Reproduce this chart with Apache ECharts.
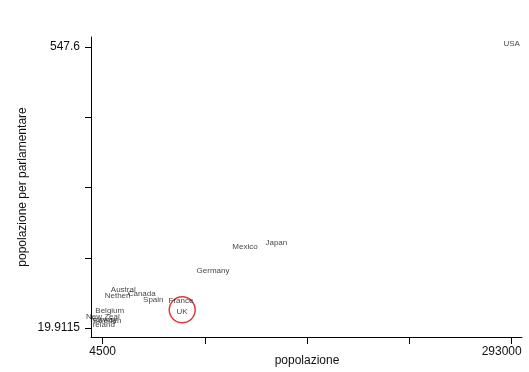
<!DOCTYPE html>
<html>
<head>
<meta charset="utf-8">
<script src="https://cdn.jsdelivr.net/npm/echarts@6/dist/echarts.min.js"></script>
<style>html,body{margin:0;padding:0;background:#fff;}#c{width:529px;height:372px;}</style>
</head>
<body>
<div id="c"></div>
<script>
const countries = ["USA","Japan","Mexico","Germany","France","UK","Spain","Canada","Austral","Netherl","Belgium","New Zeal","Norway","Sweden","Ireland"];
const popolazione = [293000,127000,104900,82300,59700,60400,40200,32000,19000,15000,9500,4600,5200,7500,4500];
const perParlamentare = [547.6,175,167,122,66,45,67,78.5,86.6,75,47,36,29,28,19.9115];
const highlight = [60600, 54];
const xTickValues = [4500,76625,148750,220875,293000];
const xTickLabels = ["4500","293000"];
const yTickValues = [19.9115,151.833,283.756,415.678,547.6];
const yTickLabels = ["19.9115","547.6"];
const xTitle = 'popolazione';
const yTitle = 'popolazione per parlamentare';

const font = "Liberation Sans, Arial, sans-serif";
const chart = echarts.init(document.getElementById('c'));
chart.setOption({
  animation: false,
  backgroundColor: '#fff',
  grid: {left: 91, right: 7, top: 37, bottom: 35, containLabel: false, outerBoundsMode: 'none'},
  graphic: [{
    type: 'text', x: 307, y: 361,
    style: {text: xTitle, align: 'center', verticalAlign: 'middle', fill: '#111', fontSize: 12, fontFamily: font}
  }],
  xAxis: {
    type: 'value', min: -3750, max: 300270,
    splitLine: {show: false},
    axisLine: {show: true, onZero: false, lineStyle: {color: '#000', width: 1}},
    axisTick: {show: true, length: 7, customValues: xTickValues, lineStyle: {color: '#000'}},
    axisLabel: {show: true, customValues: [xTickValues[0], xTickValues[4]],
      formatter: v => (Math.abs(v-4500)<1 ? xTickLabels[0] : '{r|' + xTickLabels[1] + '}'),
      rich: {r: {padding: [0, 20, 0, 0], fontSize: 12, fontFamily: font, color: '#111'}},
      color: '#111', fontSize: 12, fontFamily: font, margin: 9}
  },
  yAxis: {
    type: 'value', min: 3.05, max: 566.3,
    splitLine: {show: false},
    axisLine: {show: true, onZero: false, lineStyle: {color: '#000', width: 1}},
    axisTick: {show: true, length: 6, customValues: yTickValues, lineStyle: {color: '#000'}},
    axisLabel: {show: true, customValues: [yTickValues[0], yTickValues[4]], formatter: v => (Math.abs(v-547.6)<0.01 ? yTickLabels[1] : yTickLabels[0]), color: '#111', fontSize: 12, fontFamily: font, margin: 11},
    name: yTitle, nameLocation: 'middle', nameGap: 62, nameRotate: 90, nameMoveOverlap: false,
    nameTextStyle: {color: '#111', fontSize: 12, fontFamily: font}
  },
  series: [
    {
      type: 'scatter',
      symbol: 'circle', symbolSize: 0.01,
      itemStyle: {color: 'rgba(0,0,0,0)'},
      data: countries.map((n,i) => ({name: n, value: [popolazione[i], perParlamentare[i]]})),
      label: {show: true, position: 'inside', offset: [0,-3], formatter: p => p.name, color: '#111', fontSize: 8, fontFamily: font},
      z: 3
    },
    {
      type: 'scatter',
      symbol: 'circle', symbolSize: 26,
      itemStyle: {color: 'rgba(0,0,0,0)', borderColor: '#e03a3a', borderWidth: 1.5, opacity: 1},
      data: [highlight],
      z: 2,
      silent: true
    }
  ]
});
</script>
</body>
</html>
